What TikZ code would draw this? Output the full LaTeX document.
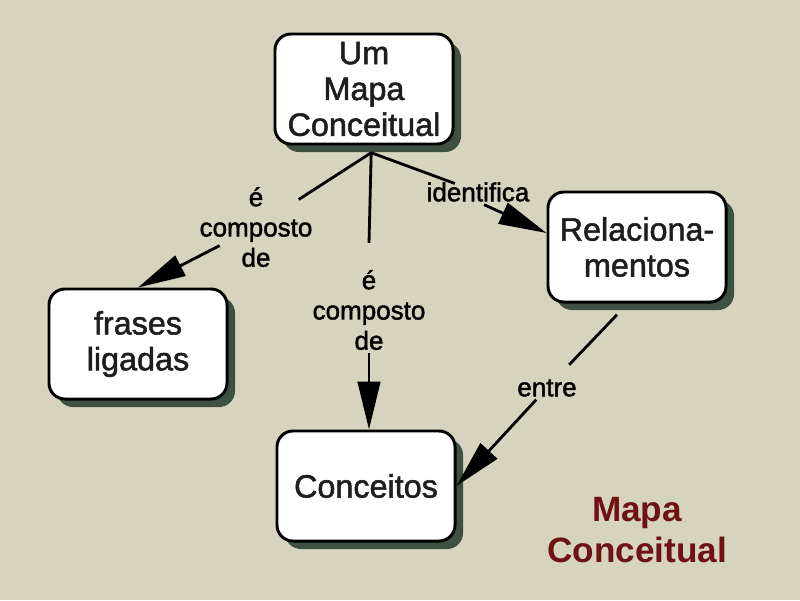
\documentclass[tikz,border=0pt]{standalone}
\usepackage{fontspec}
\setmainfont{Liberation Sans}
\newfontfamily\cmapfont{Liberation Sans}[FakeBold=1.6]
\usetikzlibrary{arrows.meta,shadows}
\definecolor{paper}{RGB}{214,212,190}
\definecolor{shadowgreen}{RGB}{62,80,64}
\definecolor{titlered}{RGB}{110,18,20}
\definecolor{ink}{RGB}{30,30,28}
\tikzset{
  concept/.style={draw=black, line width=2.1pt, fill=white, rounded corners=0.4cm,
    minimum width=4.45cm, minimum height=2.75cm, align=center,
    font=\cmapfont\fontsize{23}{25.5}\selectfont, text=ink,
    drop shadow={fill=shadowgreen, opacity=1, shadow xshift=0.2cm, shadow yshift=-0.2cm}},
  linking/.style={align=center, inner sep=2pt, font=\cmapfont\fontsize{18.5}{21.5}\selectfont},
  link/.style={line width=2pt},
  arr/.style={line width=2pt, -{Triangle[length=34pt,width=16pt]}}
}
\begin{document}
\begin{tikzpicture}[x=0.025cm, y=-0.025cm]
    \fill[paper] (0,0) rectangle (800,600);
    % conceitos
    \node[concept] (top) at (364,89) {Um\\Mapa\\Conceitual};
    \node[concept] (frases) at (138,344) {frases\\ligadas};
    \node[concept] (rel) at (637,247) {Relaciona-\\mentos};
    \node[concept] (conc) at (366,486) {Conceitos};
    % frases de ligacao
    \node[linking] (lab1) at (256,227) {é\\composto\\de};
    \node[linking] (lab2) at (369,310) {é\\composto\\de};
    \node[linking] (lab3) at (478,192) {identifica};
    \node[linking] (lab4) at (547,388) {entre};
    \coordinate (hub) at ([xshift=0.18cm, yshift=-0.18cm]top.south);
    % ligacoes
    \draw[link, shorten >=-0.5cm] (hub) -- (lab1);
    \draw[arr, shorten <=-0.65cm] (lab1) -- (frases.north);
    \draw[link] (hub) -- ([yshift=0.6cm]lab2.north);
    \draw[arr] (lab2) -- (lab2 |- conc.north);
    \draw[link, shorten >=-0.3cm] (hub) -- (lab3);
    \draw[arr] ([xshift=0.15cm]lab3.south) -- ([yshift=0.35cm]rel.west);
    \draw[link, shorten >=0.4cm] ([xshift=-0.5cm, yshift=-0.28cm]rel.south) -- (lab4);
    \draw[arr] (lab4) -- (conc.east);
    % titulo
    \node[font=\bfseries\fontsize{25}{29}\selectfont, text=titlered, align=center] (title) at (637,530) {Mapa\\Conceitual};
\end{tikzpicture}
\end{document}
